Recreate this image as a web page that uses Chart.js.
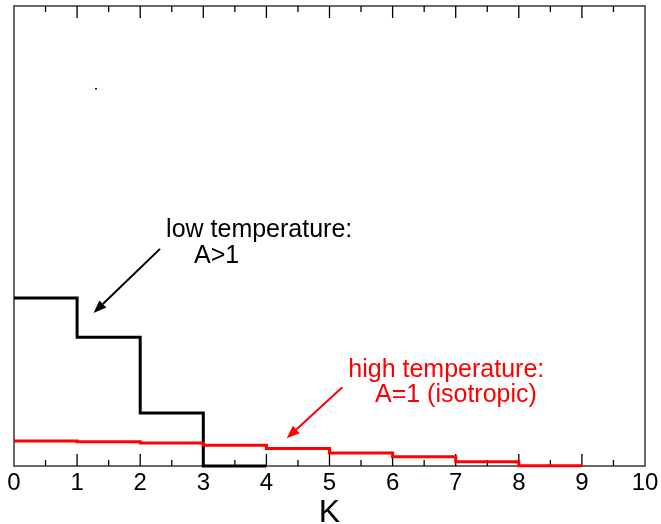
<!DOCTYPE html>
<html><head><meta charset="utf-8">
<script src="https://cdn.jsdelivr.net/npm/chart.js@4"></script>
<style>html,body{margin:0;padding:0;background:#fff}canvas{display:block}</style>
</head><body>
<canvas id="c" width="661" height="524"></canvas>
<script>
// ---- data ----
const kEdges = [0, 1, 2, 3, 4, 5, 6, 7, 8, 9];
const lowTempValues = [36.5, 28.0, 11.5, 0.0];
const highTempValues = [5.43, 5.28, 5.0, 4.5, 3.8, 2.83, 2.0, 0.93, 0.07];
const xTickValues = [0, 1, 2, 3, 4, 5, 6, 7, 8, 9, 10];
const strayDot = [{x: 1.30, y: 82.0}];
const lowTempLabel = ['low temperature:', 'A>1'];
const highTempLabel = ['high temperature:', 'A=1 (isotropic)'];

function stepPoints(values) {
  const pts = values.map((v, i) => ({x: kEdges[i], y: v}));
  pts.push({x: kEdges[values.length], y: values[values.length - 1]});
  return pts;
}

// annotation placement (data coordinates)
const notes = [
  {color: '#000', lines: [{t: lowTempLabel[0], x: 2.41, y: 49.85}, {t: lowTempLabel[1], x: 2.853, y: 44.2}],
   arrow: {x1: 2.314, y1: 47.2, x2: 1.26, y2: 33.26}},
  {color: '#ff0000', lines: [{t: highTempLabel[0], x: 5.298, y: 19.41}, {t: highTempLabel[1], x: 5.721, y: 13.98}],
   arrow: {x1: 5.203, y1: 17.1, x2: 4.322, y2: 6.02}}
];

const FONT = '"Liberation Sans", Arial, Helvetica, sans-serif';

const framePlugin = {
  id: 'frame',
  beforeDatasetsDraw(chart) {
    const {ctx, chartArea: a, scales: {x}} = chart;
    ctx.save();
    ctx.strokeStyle = '#444';
    ctx.lineWidth = 1.6;
    ctx.strokeRect(a.left, a.top, a.right - a.left, a.bottom - a.top);
    ctx.strokeStyle = '#000';
    ctx.lineWidth = 1.3;
    for (let v = 0.5; v < 10; v += 0.5) {
      const px = x.getPixelForValue(v);
      const len = Number.isInteger(v) ? 12 : 6;
      ctx.beginPath();
      ctx.moveTo(px, a.bottom); ctx.lineTo(px, a.bottom - len);
      ctx.moveTo(px, a.top); ctx.lineTo(px, a.top + len);
      ctx.stroke();
    }
    ctx.restore();
  },
  afterDatasetsDraw(chart) {
    const {ctx, scales: {x, y}} = chart;
    ctx.save();
    ctx.font = '25px ' + FONT;
    ctx.textBaseline = 'alphabetic';
    ctx.textAlign = 'left';
    notes.forEach(n => {
      ctx.fillStyle = n.color;
      n.lines.forEach(l => ctx.fillText(l.t, x.getPixelForValue(l.x), y.getPixelForValue(l.y)));
      const ax1 = x.getPixelForValue(n.arrow.x1), ay1 = y.getPixelForValue(n.arrow.y1);
      const ax2 = x.getPixelForValue(n.arrow.x2), ay2 = y.getPixelForValue(n.arrow.y2);
      const ang = Math.atan2(ay2 - ay1, ax2 - ax1);
      const hl = 13, hw = 5;
      const bx = ax2 - hl * Math.cos(ang), by = ay2 - hl * Math.sin(ang);
      ctx.strokeStyle = n.color;
      ctx.lineWidth = 2;
      ctx.beginPath(); ctx.moveTo(ax1, ay1); ctx.lineTo(bx, by); ctx.stroke();
      ctx.beginPath();
      ctx.moveTo(ax2, ay2);
      ctx.lineTo(bx + hw * Math.sin(ang), by - hw * Math.cos(ang));
      ctx.lineTo(bx - hw * Math.sin(ang), by + hw * Math.cos(ang));
      ctx.closePath(); ctx.fill();
    });
    ctx.restore();
  }
};

new Chart(document.getElementById('c'), {
  type: 'line',
  data: {
    datasets: [
      {label: 'high', data: stepPoints(highTempValues), stepped: 'before', borderColor: '#ff0000', borderWidth: 3, pointRadius: 0, fill: false, clip: false},
      {label: 'low', data: stepPoints(lowTempValues), stepped: 'before', borderColor: '#000', borderWidth: 3, pointRadius: 0, fill: false, clip: false},
      {type: 'scatter', label: 'dot', data: strayDot, pointRadius: 1, pointBackgroundColor: '#000', borderColor: '#000', pointBorderWidth: 0}
    ]
  },
  options: {
    responsive: false,
    animation: false,
    devicePixelRatio: 1,
    layout: {padding: {left: 14, right: 16, top: 6, bottom: 0}},
    plugins: {legend: {display: false}, tooltip: {enabled: false}},
    scales: {
      x: {
        type: 'linear', min: 0, max: 10,
        afterBuildTicks: s => { s.ticks = xTickValues.map(v => ({value: v})); },
        afterFit: s => { s.height = 58; s.paddingLeft = 0; s.paddingRight = 0; },
        grid: {display: false, drawTicks: false},
        border: {display: false},
        ticks: {color: '#000', font: {family: FONT, size: 24, lineHeight: 1.0}, padding: 5, maxRotation: 0, autoSkip: false},
        title: {display: true, text: 'K', color: '#000', font: {family: FONT, size: 32, lineHeight: 0.7}, padding: 0}
      },
      y: {min: 0, max: 100, display: false}
    }
  },
  plugins: [framePlugin]
});
</script>
</body></html>
